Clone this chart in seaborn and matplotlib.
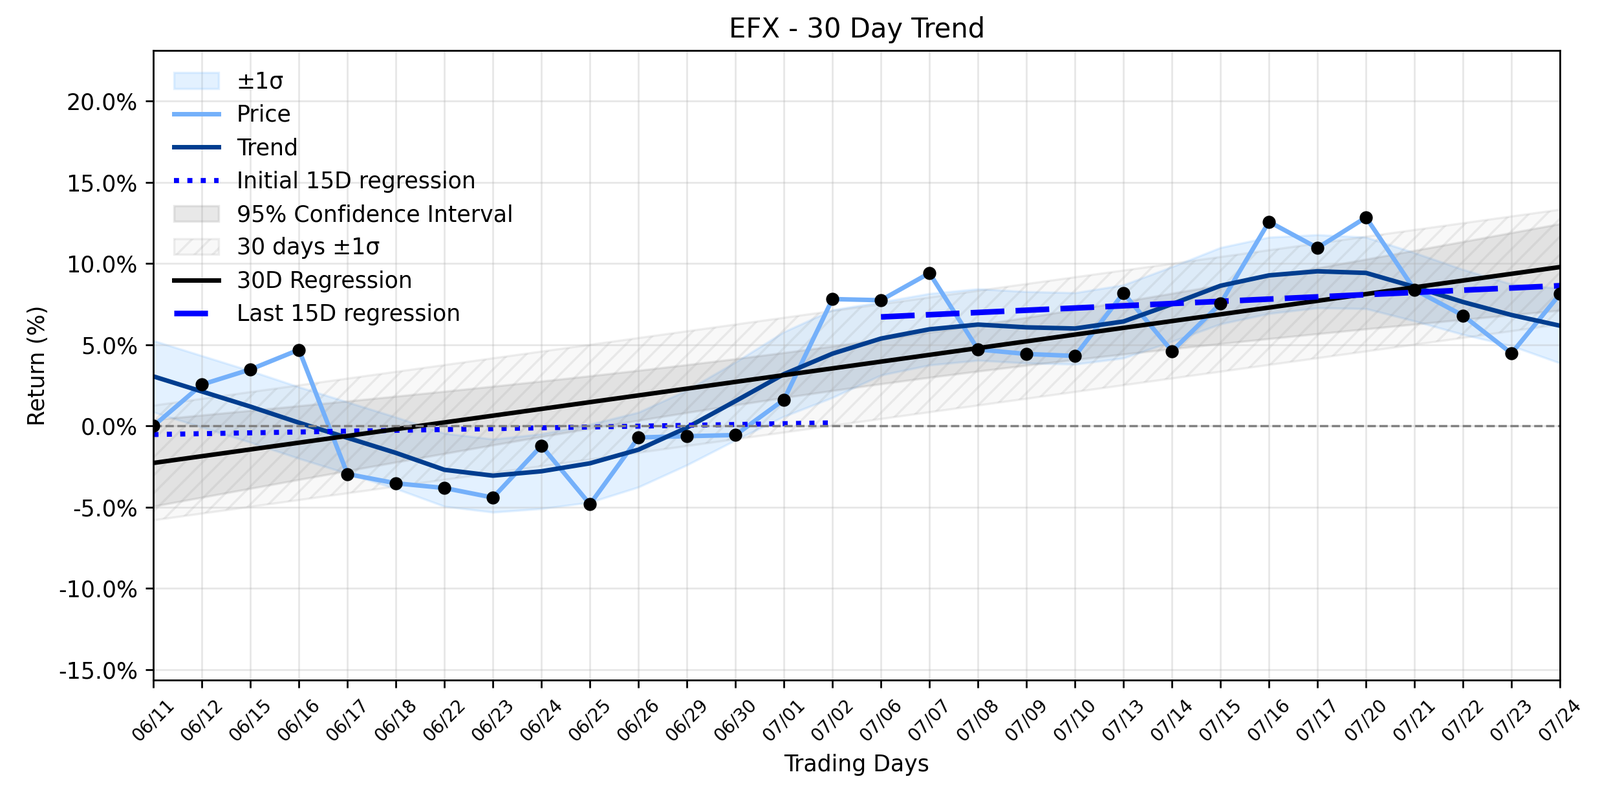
import numpy as np
import matplotlib
matplotlib.use("Agg")
import matplotlib.pyplot as plt
from matplotlib.ticker import FuncFormatter, MultipleLocator
import seaborn as sns

# data (return in %)
dates = ["06/11", "06/12", "06/15", "06/16", "06/17", "06/18", "06/22", "06/23",
         "06/24", "06/25", "06/26", "06/29", "06/30", "07/01", "07/02", "07/06",
         "07/07", "07/08", "07/09", "07/10", "07/13", "07/14", "07/15", "07/16",
         "07/17", "07/20", "07/21", "07/22", "07/23", "07/24"]
price = [0.00, 2.55, 3.48, 4.69, -2.96, -3.53, -3.82, -4.41, -1.22, -4.82,
         -0.71, -0.63, -0.56, 1.62, 7.81, 7.74, 9.41, 4.71, 4.43, 4.31,
         8.18, 4.61, 7.53, 12.57, 10.96, 12.84, 8.39, 6.80, 4.47, 8.12]
trend = [3.05, 2.12, 1.19, 0.20, -0.73, -1.66, -2.70, -3.06, -2.79, -2.30,
         -1.46, -0.10, 1.53, 3.19, 4.45, 5.38, 5.95, 6.24, 6.07, 6.00,
         6.43, 7.50, 8.63, 9.27, 9.52, 9.42, 8.56, 7.63, 6.83, 6.17]
trend_sigma = [2.2, 2.2, 2.2, 2.2, 2.2, 2.2, 2.25, 2.25, 2.3, 2.4,
               2.3, 2.3, 2.4, 2.6, 2.7, 2.25, 2.2, 2.2, 2.2, 2.2,
               2.25, 2.3, 2.35, 2.35, 2.25, 2.2, 2.1, 2.0, 1.9, 2.3]

days = np.arange(len(price))
y = np.array(price)
tr = np.array(trend)
sg = np.array(trend_sigma)

# 30 day regression + bands
slope, icpt = np.polyfit(days, y, 1)
reg30 = icpt + slope * days
resid = y - reg30
sd30 = resid.std()
n = len(days)
dx = days - days.mean()
se = np.sqrt((resid ** 2).sum() / (n - 2)) * np.sqrt(1 / n + dx ** 2 / (dx ** 2).sum())
ci95 = 2.048 * se

# 15 day regressions
d1, d2 = days[:15], days[15:]
s1, i1 = np.polyfit(d1, y[:15], 1)
s2, i2 = np.polyfit(d2, y[15:], 1)

fig = plt.figure(figsize=(9.896, 4.896), dpi=250)
ax = fig.add_axes([0.0959, 0.1416, 0.8791, 0.7944])

ax.fill_between(days, tr - sg, tr + sg, color="#66b2ff", alpha=0.18, label="±1σ")
sns.lineplot(x=days, y=y, ax=ax, color="#74b0fa", lw=2, label="Price")
sns.lineplot(x=days, y=tr, ax=ax, color="#003d8f", lw=2, label="Trend")
sns.lineplot(x=d1, y=i1 + s1 * d1, ax=ax, color="blue", lw=2.25, linestyle=":",
             label="Initial 15D regression")
ax.fill_between(days, reg30 - ci95, reg30 + ci95, color="gray", alpha=0.18,
                label="95% Confidence Interval")
ax.fill_between(days, reg30 - sd30, reg30 + sd30, facecolor=(0.5, 0.5, 0.5, 0.05),
                edgecolor=(0.5, 0.5, 0.5, 0.13), hatch="///", label="30 days ±1σ")
sns.lineplot(x=days, y=reg30, ax=ax, color="black", lw=2, label="30D Regression")
sns.lineplot(x=d2, y=i2 + s2 * d2, ax=ax, color="blue", lw=2.5,
             linestyle=(0, (6, 2)), label="Last 15D regression")
sns.scatterplot(x=days, y=y, ax=ax, color="black", s=34, edgecolor="black",
                linewidth=0, zorder=5)
ax.axhline(0, color="gray", ls="--", lw=1)

ax.set_xlim(0, 29)
ax.set_ylim(-15.63, 23.1)
ax.yaxis.set_major_locator(MultipleLocator(5))
ax.yaxis.set_major_formatter(FuncFormatter(lambda v, p: f"{v:.1f}%"))
ax.set_xticks(days)
ax.set_xticklabels(dates, rotation=45, fontsize=8)
ax.grid(True, alpha=0.3)

ax.set_title("EFX - 30 Day Trend", fontsize=12)
ax.set_xlabel("Trading Days")
ax.set_ylabel("Return (%)")
ax.legend(loc="upper left", frameon=False)

fig.savefig("out.png", dpi=250)
